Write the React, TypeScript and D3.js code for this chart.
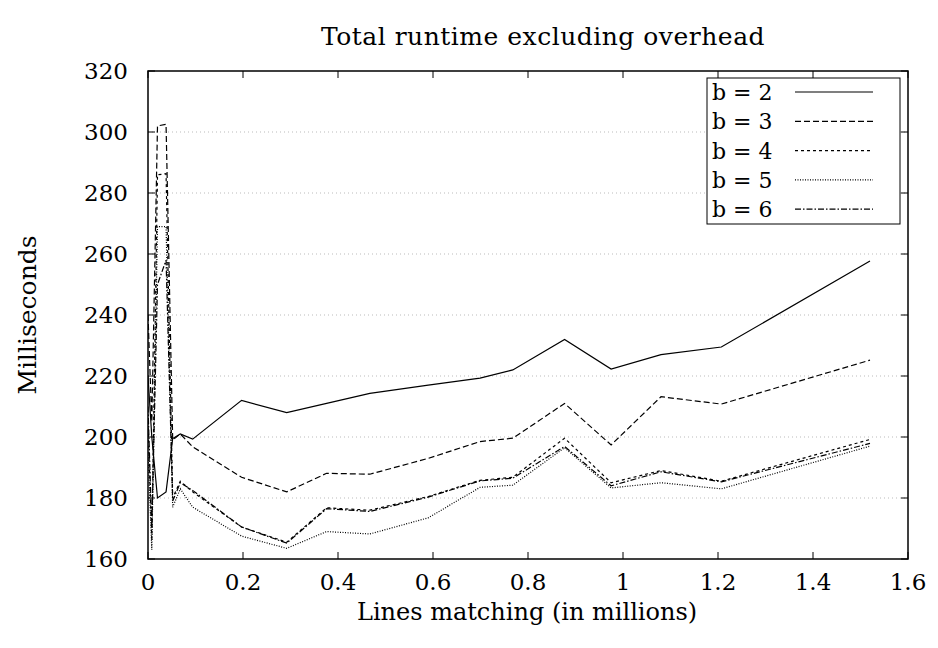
import * as d3 from "d3";

// x positions (millions of matching lines)
const xs = [0, 0.008, 0.02, 0.038, 0.052, 0.068, 0.094, 0.197, 0.292, 0.376, 0.467, 0.59, 0.699, 0.768, 0.877, 0.975, 1.08, 1.207, 1.52];

const b2 = [220, 200, 180, 182, 199.5, 201, 199.3, 212, 208, 211, 214.3, 217, 219.3, 222, 232, 222.3, 227, 229.5, 257.7];
const b3 = [240, 205, 302, 302.5, 199, 201, 196.8, 186.8, 182, 188.1, 187.8, 193, 198.5, 199.6, 211, 197.4, 213.2, 210.8, 225.2];
const b4 = [205, 166, 286, 286.3, 180, 185.5, 182, 170.5, 165.5, 176.8, 176, 180.5, 185.8, 186.8, 199.6, 185, 189, 185.5, 199.2];
const b5 = [195, 163, 269, 269, 177, 183, 177, 167.5, 163.5, 169, 168.2, 173.5, 183.5, 184.2, 196.5, 183.3, 185, 183, 197];
const b6 = [210, 170, 250, 258, 179, 185, 182.5, 170.5, 165.2, 176.5, 175.6, 180.3, 185.6, 186.5, 196.9, 184, 188.6, 185.3, 197.9];

const seriesNames = ["b = 2", "b = 3", "b = 4", "b = 5", "b = 6"];
const seriesValues = [b2, b3, b4, b5, b6];
const dashes = ["none", "6,3", "3,3", "1,1.5", "6,2,1.5,2"];

const xTicks = [0, 0.2, 0.4, 0.6, 0.8, 1, 1.2, 1.4, 1.6];
const yTicks = [160, 180, 200, 220, 240, 260, 280, 300, 320];

const font = "'DejaVu Serif', 'Liberation Serif', serif";

export default function App() {
  const width = 938;
  const height = 648;
  const left = 148, right = 908, top = 71, bottom = 559;

  const x = d3.scaleLinear().domain([0, 1.6]).range([left, right]);
  const y = d3.scaleLinear().domain([160, 320]).range([bottom, top]);

  const line = d3
    .line<number>()
    .x((_, i) => x(xs[i]))
    .y((d) => y(d));

  const legX = 707, legY = 78, legW = 193, legH = 146;
  const rowH = 29.3;

  return (
    <svg width={width} height={height} style={{ position: "absolute", left: 0, top: 0, background: "#fff" }}>
      {/* grid */}
      {yTicks.slice(1, -1).map((t) => (
        <line key={"g" + t} x1={left} x2={right} y1={y(t)} y2={y(t)} stroke="#bbb" strokeWidth={1} strokeDasharray="1,3" />
      ))}

      {/* series */}
      <g clipPath="url(#clip)">
        {seriesValues.map((vals, i) => (
          <path key={i} d={line(vals) || ""} fill="none" stroke="#000" strokeWidth={1.2} strokeDasharray={dashes[i]} />
        ))}
      </g>
      <defs>
        <clipPath id="clip">
          <rect x={left} y={top} width={right - left} height={bottom - top} />
        </clipPath>
      </defs>

      {/* frame */}
      <rect x={left} y={top} width={right - left} height={bottom - top} fill="none" stroke="#000" strokeWidth={1.5} />

      {/* ticks */}
      {xTicks.map((t) => (
        <g key={"x" + t}>
          <line x1={x(t)} x2={x(t)} y1={bottom} y2={bottom - 7} stroke="#000" strokeWidth={1} />
          <line x1={x(t)} x2={x(t)} y1={top} y2={top + 7} stroke="#000" strokeWidth={1} />
          <text x={x(t)} y={590} textAnchor="middle" fontFamily={font} fontSize={23}>
            {d3.format("~g")(t)}
          </text>
        </g>
      ))}
      {yTicks.map((t) => (
        <g key={"y" + t}>
          <line x1={left} x2={left + 7} y1={y(t)} y2={y(t)} stroke="#000" strokeWidth={1} />
          <line x1={right} x2={right - 7} y1={y(t)} y2={y(t)} stroke="#000" strokeWidth={1} />
          <text x={128} y={y(t) + 8} textAnchor="end" fontFamily={font} fontSize={23}>
            {t}
          </text>
        </g>
      ))}

      {/* legend */}
      <rect x={legX} y={legY} width={legW} height={legH} fill="#fff" stroke="#000" strokeWidth={1} />
      {seriesNames.map((name, i) => {
        const cy = legY + 14 + i * rowH;
        return (
          <g key={name}>
            <text x={legX + 5} y={cy + 8} fontFamily={font} fontSize={22}>
              {name}
            </text>
            <line x1={795} x2={873} y1={cy} y2={cy} stroke="#000" strokeWidth={1.2} strokeDasharray={dashes[i]} />
          </g>
        );
      })}

      {/* titles */}
      <text x={543} y={45} textAnchor="middle" fontFamily={font} fontSize={25} letterSpacing={0.5}>
        Total runtime excluding overhead
      </text>
      <text x={527} y={620} textAnchor="middle" fontFamily={font} fontSize={24}>
        Lines matching (in millions)
      </text>
      <text transform={`translate(36, ${(top + bottom) / 2}) rotate(-90)`} textAnchor="middle" fontFamily={font} fontSize={25}>
        Milliseconds
      </text>
    </svg>
  );
}
